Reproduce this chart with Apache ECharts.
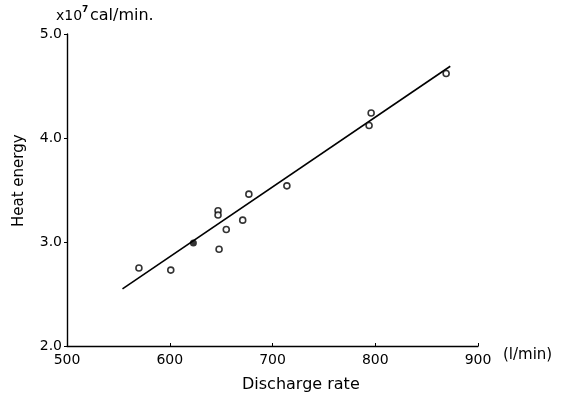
<!DOCTYPE html>
<html>
<head>
<meta charset="utf-8">
<script src="https://cdn.jsdelivr.net/npm/echarts@6/dist/echarts.min.js"></script>
<style>
  html, body { margin: 0; padding: 0; background: #fff; }
  #chart { width: 573px; height: 399px; }
</style>
</head>
<body>
<div id="chart"></div>
<script>
// measured points: discharge rate (l/min) vs heat energy (x10^7 cal/min)
const openX = [570, 601, 648, 647, 647, 655, 671, 677, 714, 796, 794, 869];
const openY = [2.75, 2.73, 2.93, 3.30, 3.26, 3.12, 3.21, 3.46, 3.54, 4.24, 4.12, 4.62];
const filledX = [623];
const filledY = [2.99];
const fitX = [554, 873];
const fitY = [2.55, 4.69];

const FONT = "DejaVu Sans";

const chart = echarts.init(document.getElementById("chart"));

chart.setOption({
  animation: false,
  backgroundColor: "#fff",
  grid: { left: 67, right: 95, top: 34, bottom: 53 },
  xAxis: {
    type: "value",
    min: 500,
    max: 900,
    interval: 100,
    axisLine: { lineStyle: { color: "#000", width: 1.4 } },
    axisTick: { inside: true, length: 3, lineStyle: { color: "#000" } },
    axisLabel: { color: "#000", fontFamily: FONT, fontSize: 14, margin: 7 },
    splitLine: { show: false },
  },
  yAxis: {
    type: "value",
    min: 2,
    max: 5,
    interval: 1,
    axisLine: { show: true, lineStyle: { color: "#000", width: 1.4 } },
    axisTick: { show: true, length: 3, lineStyle: { color: "#000" } },
    axisLabel: {
      color: "#000", fontFamily: FONT, fontSize: 14, margin: 5,
      formatter: v => v.toFixed(1),
    },
    splitLine: { show: false },
  },
  series: [
    {
      type: "line",
      data: fitX.map((x, i) => [x, fitY[i]]),
      symbol: "none",
      lineStyle: { color: "#000", width: 1.6 },
      z: 1,
    },
    {
      type: "scatter",
      data: openX.map((x, i) => [x, openY[i]]),
      symbol: "circle",
      symbolSize: 6,
      itemStyle: { color: "#fff", borderColor: "#000", borderWidth: 1.6 },
      z: 3,
    },
    {
      type: "scatter",
      data: filledX.map((x, i) => [x, filledY[i]]),
      symbol: "circle",
      symbolSize: 7,
      itemStyle: { color: "#000" },
      z: 3,
    },
  ],
  graphic: [
    {
      type: "text", left: 56, top: 9,
      style: { text: "x10", fill: "#000", font: "14px " + FONT },
    },
    {
      type: "text", left: 82, top: 5,
      style: { text: "7", fill: "#000", font: "bold 9px " + FONT },
    },
    {
      type: "text", left: 90, top: 8,
      style: { text: "cal/min.", fill: "#000", font: "16px " + FONT },
    },
    {
      type: "text", left: 503, top: 348,
      style: { text: "(l/min)", fill: "#000", font: "15px " + FONT },
    },
    {
      type: "text", left: 242, top: 377,
      style: { text: "Discharge rate", fill: "#000", font: "16px " + FONT },
    },
    {
      type: "text", x: 12, y: 227, rotation: Math.PI / 2,
      style: { text: "Heat energy", fill: "#000", font: "15px " + FONT },
    },
  ],
});
</script>
</body>
</html>
